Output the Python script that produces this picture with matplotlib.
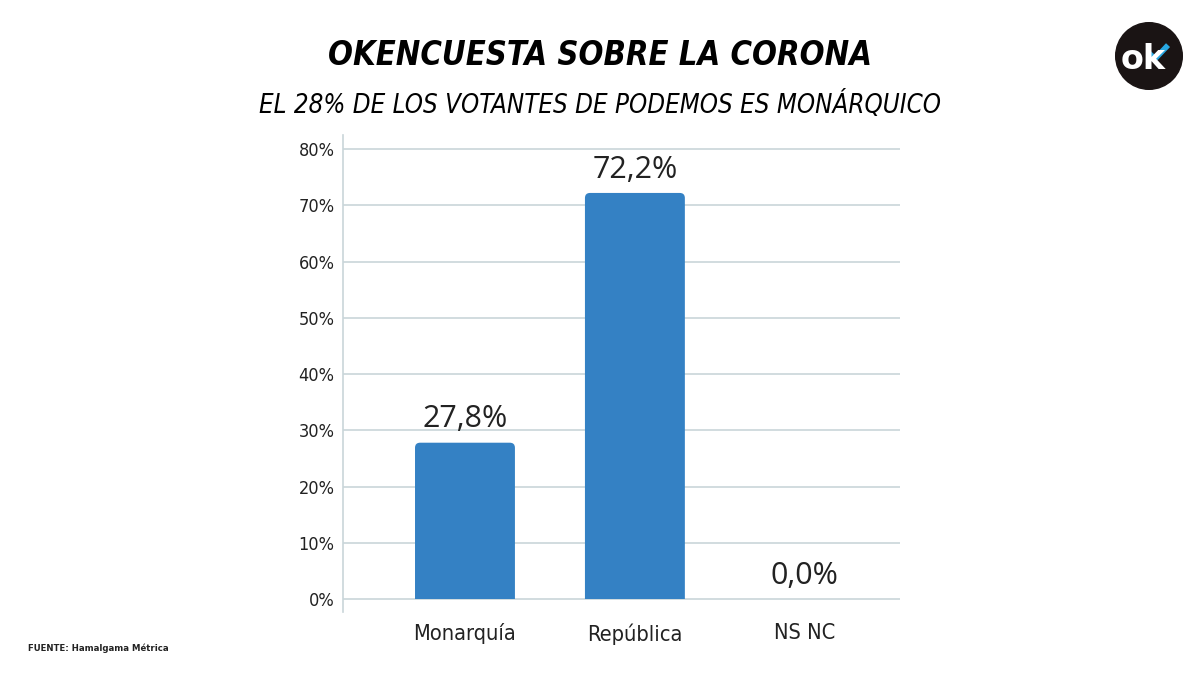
import matplotlib.pyplot as plt
from matplotlib.patches import Circle, FancyBboxPatch, Rectangle
from matplotlib.lines import Line2D

# data
categories = ['Monarquía', 'República', 'NS NC']
values = [27.8, 72.2, 0.0]
value_labels = ['27,8%', '72,2%', '0,0%']
yticks = [0, 10, 20, 30, 40, 50, 60, 70, 80]
ytick_labels = ['0%', '10%', '20%', '30%', '40%', '50%', '60%', '70%', '80%']

title = 'OKENCUESTA SOBRE LA CORONA'
subtitle = 'EL 28% DE LOS VOTANTES DE PODEMOS ES MONÁRQUICO'
source = 'FUENTE: Hamalgama Métrica'

bar_color = '#3481c4'
grid_color = '#c9d5d9'
text_color = '#222222'

fig = plt.figure(figsize=(12, 6.75), dpi=100)
fig.patch.set_facecolor('white')
ax = fig.add_axes([0.2858, 0.0933, 0.4642, 0.7067])

x = list(range(len(categories)))
bars = ax.bar(x, values, width=0.588, color=bar_color, zorder=3)
ax.set_xlim(-0.718, 2.56)
ax.set_ylim(-2.3, 82.5)

# swap each bar for one with rounded top corners; bottom is clipped at 0
clip = Rectangle((-1, 0), 5, 200, transform=ax.transData)
for rect in bars:
    h = rect.get_height()
    rect.set_visible(False)
    if h <= 0:
        continue
    p = FancyBboxPatch((rect.get_x(), -1.5), rect.get_width(), h + 1.5,
                       boxstyle='round,pad=0,rounding_size=0.03',
                       mutation_aspect=30, color=bar_color, lw=0, zorder=3)
    ax.add_patch(p)
    p.set_clip_path(clip)

for xi, v, lab in zip(x, values, value_labels):
    ax.annotate(lab, (xi, v), xytext=(0, 6), textcoords='offset points',
                ha='center', va='bottom', fontsize=22, color=text_color,
                family=['Open Sans', 'DejaVu Sans'])

ax.set_yticks(yticks)
ax.set_yticklabels(ytick_labels, fontsize=13, color=text_color,
                   fontstretch='condensed')
ax.set_xticks(x)
ax.set_xticklabels(categories, fontsize=15.7, color=text_color,
                   fontstretch='condensed')
ax.tick_params(axis='y', length=0, pad=6)
ax.tick_params(axis='x', length=0, pad=8)

for y in yticks:
    ax.axhline(y, color=grid_color, lw=1.2, zorder=1)

for s in ['top', 'right', 'bottom']:
    ax.spines[s].set_visible(False)
ax.spines['left'].set_color(grid_color)
ax.spines['left'].set_linewidth(1.2)

fig.text(0.5, 0.918, title, ha='center', va='center', fontsize=23.5,
         fontweight='bold', style='italic', fontstretch='condensed', color='black')
fig.text(0.5, 0.845, subtitle, ha='center', va='center', fontsize=18.5,
         style='italic', fontstretch='condensed', color='black')
fig.text(0.023, 0.04, source, ha='left', va='center', fontsize=6.8,
         fontweight='bold', fontstretch='condensed', color=text_color)

# logo
logo = fig.add_axes([1115 / 1200, 1 - 90 / 675, 68 / 1200, 68 / 675])
logo.set_xlim(0, 1)
logo.set_ylim(0, 1)
logo.set_aspect('equal')
logo.axis('off')
logo.add_patch(Circle((0.5, 0.5), 0.49, color='#1a1414'))
logo.text(0.08, 0.31, 'ok', ha='left', va='baseline', fontsize=24,
          fontweight='bold', color='white', family=['DejaVu Sans'])
logo.add_line(Line2D([0.5, 0.59, 0.78], [0.54, 0.46, 0.66], color='#28a7e1',
                     lw=4, solid_capstyle='butt'))

fig.savefig('out.png', dpi=100)
